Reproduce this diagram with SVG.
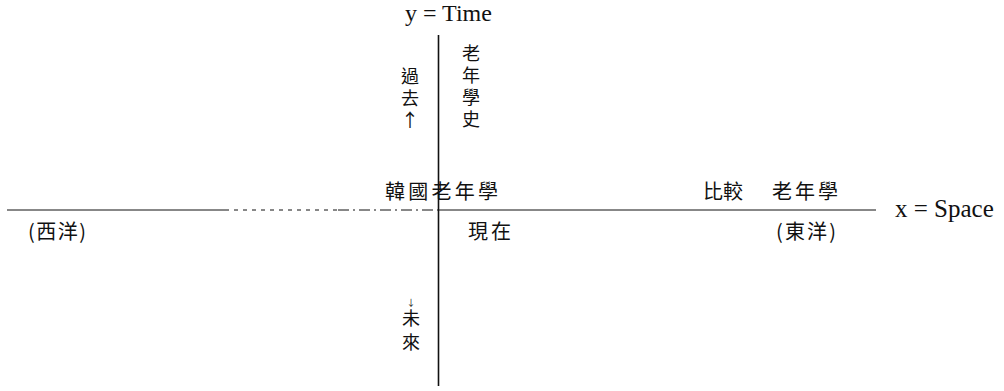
<svg xmlns="http://www.w3.org/2000/svg" width="1004" height="391" viewBox="0 0 1004 391">
<style>
.lat{font-family:"Liberation Serif",serif;font-size:24px;fill:#111}
.cjk{font-family:"Noto Sans CJK TC","Noto Sans CJK SC",sans-serif;font-size:20px;fill:#111}
.v{font-family:"Noto Sans CJK TC","Noto Sans CJK SC",sans-serif;font-size:18px;fill:#111;writing-mode:vertical-rl;text-orientation:upright;letter-spacing:4px}
.ax{stroke:#111;fill:none}
</style>
<rect width="1004" height="391" fill="#fff"/>
<g id="connectors">
<line class="ax" x1="438.5" y1="35" x2="438.5" y2="386" stroke-width="1.6"/>
<line class="ax" x1="7" y1="210" x2="225" y2="210" stroke-width="1"/>
<line class="ax" x1="225" y1="210" x2="338" y2="210" stroke-width="1" stroke-dasharray="4 5"/>
<line class="ax" x1="338" y1="210" x2="437" y2="210" stroke-width="1" stroke-dasharray="11 4 2 4"/>
<line class="ax" x1="437" y1="210" x2="876" y2="210" stroke-width="1"/>
</g>
<g id="y-label"><text class="lat" x="405" y="21">y = Time</text></g>
<g id="x-label"><text class="lat" x="895" y="217" style="font-size:25px">x = Space</text></g>
<g id="past"><text class="v" x="410" y="67">過去↑</text></g>
<g id="history"><text class="v" x="471" y="44">老年學史</text></g>
<g id="future"><text class="v" x="411" y="298"><tspan style="font-size:9px;letter-spacing:2px">↓</tspan><tspan style="letter-spacing:6px">未來</tspan></text></g>
<g id="korean"><text class="cjk" x="385" y="199" textLength="113">韓國老年學</text></g>
<g id="present"><text class="cjk" x="468" y="239" textLength="43">現在</text></g>
<g id="comparative"><text class="cjk" x="703" y="199" textLength="40">比較</text><text class="cjk" x="772" y="199" textLength="66">老年學</text></g>
<g id="east"><text class="cjk" x="776" y="239" textLength="60">(東洋)</text></g>
<g id="west"><text class="cjk" x="28" y="239" textLength="58">(西洋)</text></g>
</svg>
